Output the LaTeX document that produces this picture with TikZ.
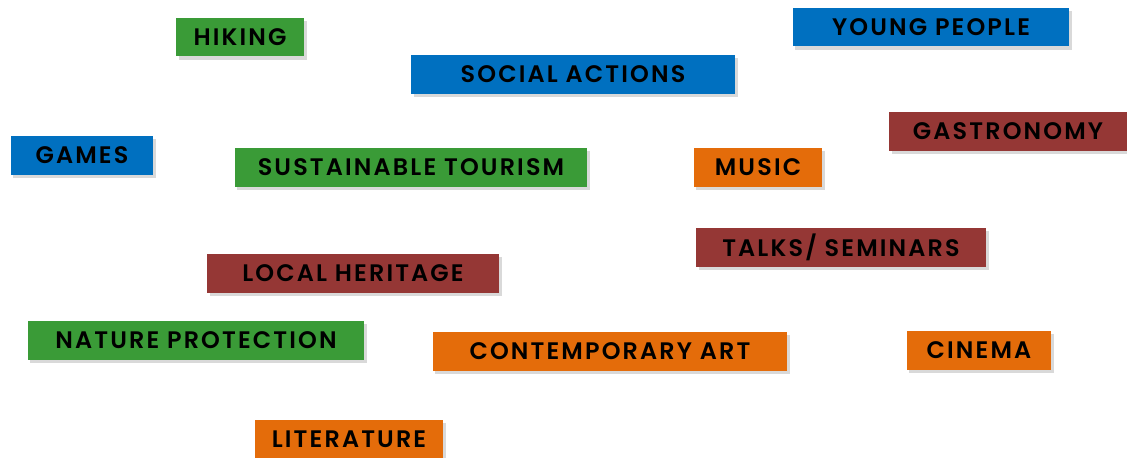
\documentclass[tikz,border=0pt]{standalone}
\usepackage{fontspec}
\setmainfont{Poppins}[BoldFont={Poppins SemiBold}]
\usetikzlibrary{shadows}
\definecolor{tagGreen}{RGB}{58,155,55}
\definecolor{tagBlue}{RGB}{0,112,192}
\definecolor{tagRed}{RGB}{149,55,53}
\definecolor{tagOrange}{RGB}{228,108,10}
\tikzset{
  tag/.style={rectangle, inner sep=0pt, minimum height=0.78cm,
    font=\fontsize{13.6}{14}\selectfont\bfseries\addfontfeature{LetterSpace=9},
    text=black, drop shadow={shadow xshift=1.5pt, shadow yshift=-2pt, opacity=0.3}},
  greentag/.style={tag, fill=tagGreen},
  bluetag/.style={tag, fill=tagBlue},
  redtag/.style={tag, fill=tagRed},
  orangetag/.style={tag, fill=tagOrange}
}
\begin{document}
\begin{tikzpicture}[x=0.02cm,y=-0.02cm]

\useasboundingbox (0,0) rectangle (1127,457);

\node[greentag, minimum width=2.56cm] (hiking) at (240,37) {HIKING};
\node[bluetag, minimum width=5.54cm] (young) at (931,27) {YOUNG PEOPLE};
\node[bluetag, minimum width=6.48cm] (social) at (573,74) {SOCIAL ACTIONS};
\node[bluetag, minimum width=2.86cm] (games) at (82,155) {GAMES};
\node[greentag, minimum width=7.06cm] (tourism) at (411,167) {SUSTAINABLE TOURISM};
\node[orangetag, minimum width=2.58cm] (music) at (758,167) {MUSIC};
\node[redtag, minimum width=4.76cm] (gastro) at (1008,131) {GASTRONOMY};
\node[redtag, minimum width=5.80cm] (talks) at (841,247) {TALKS/ SEMINARS};
\node[redtag, minimum width=5.84cm] (heritage) at (353,273) {LOCAL HERITAGE};
\node[greentag, minimum width=6.74cm] (nature) at (196,340) {NATURE PROTECTION};
\node[orangetag, minimum width=7.10cm] (art) at (610,351) {CONTEMPORARY ART};
\node[orangetag, minimum width=2.90cm] (cinema) at (979,350) {CINEMA};
\node[orangetag, minimum width=3.76cm] (literature) at (349,439) {LITERATURE};

\end{tikzpicture}
\end{document}
